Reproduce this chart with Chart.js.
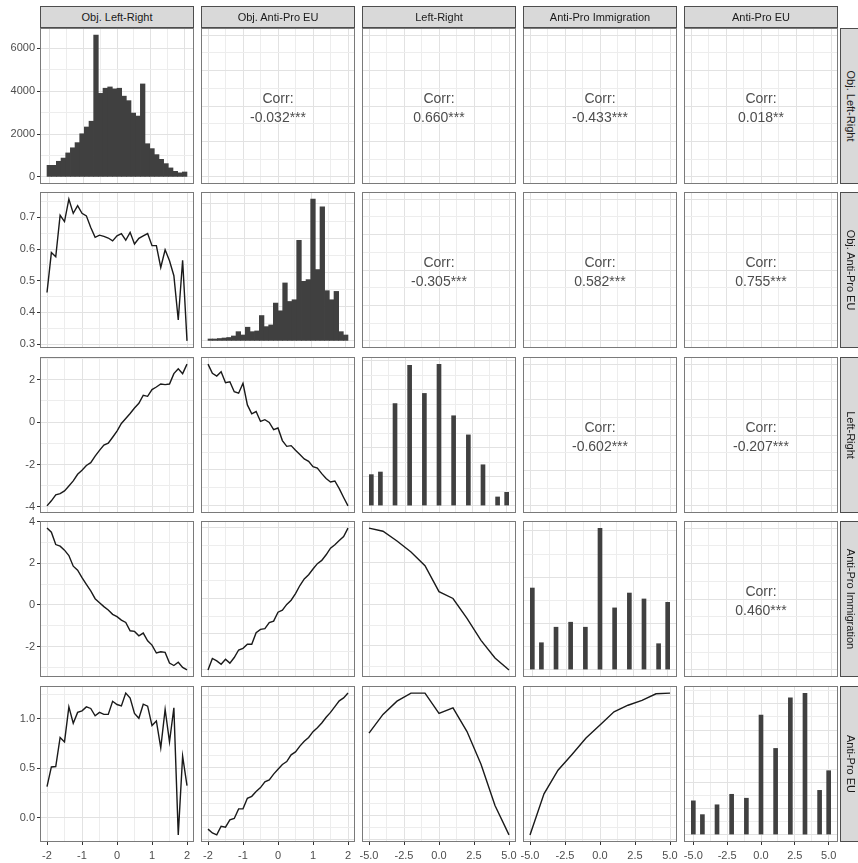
<!DOCTYPE html>
<html>
<head>
<meta charset="utf-8">
<script src="https://cdn.jsdelivr.net/npm/chart.js@4.4.1/dist/chart.umd.min.js"></script>
<style>
  body { margin: 0; background: #ffffff; }
  #fig { position: relative; width: 858px; height: 863px; overflow: hidden; background: #ffffff;
         font-family: "Liberation Sans", Arial, Helvetica, sans-serif; }
  #fig canvas { position: absolute; }
  .strip { position: absolute; background: #d9d9d9; border: 1px solid #4d4d4d; box-sizing: border-box;
           color: #1a1a1a; font-size: 11px; display: flex; align-items: center; justify-content: center;
           white-space: nowrap; overflow: hidden; }
  .strip.side span { display: inline-block; transform: rotate(90deg); }
  .corr { position: absolute; text-align: center; color: #4d4d4d; font-size: 14px; line-height: 19px; }
</style>
</head>
<body>
<div id="fig"></div>
<script>
// ---------------- data ----------------
const variables = ['Obj. Left-Right', 'Obj. Anti-Pro EU', 'Left-Right', 'Anti-Pro Immigration', 'Anti-Pro EU'];
const variableRanges = [[-2, 2], [-2, 2], [-5, 5], [-5, 5], [-5, 5]];

// positions of the objective scales and of the survey scales
const objPoints = [-2, -1.875, -1.75, -1.625, -1.5, -1.375, -1.25, -1.125, -1, -0.875, -0.75, -0.625, -0.5,
  -0.375, -0.25, -0.125, 0, 0.125, 0.25, 0.375, 0.5, 0.625, 0.75, 0.875, 1, 1.125, 1.25, 1.375, 1.5,
  1.625, 1.75, 1.875, 2];
const scalePoints = [-5, -4, -3, -2, -1, 0, 1, 2, 3, 4, 5];

// conditional means (lower triangle)
const objEU_by_objLR = [0.463, 0.589, 0.576, 0.707, 0.687, 0.758, 0.713, 0.737, 0.713, 0.705, 0.668, 0.637,
  0.644, 0.640, 0.635, 0.626, 0.642, 0.649, 0.628, 0.653, 0.616, 0.634, 0.642, 0.649, 0.611, 0.611, 0.542,
  0.598, 0.563, 0.516, 0.376, 0.565, 0.310];
const leftRight_by_objLR = [-3.95, -3.71, -3.43, -3.37, -3.24, -3.01, -2.77, -2.46, -2.27, -2.04, -1.91, -1.60,
  -1.33, -1.08, -0.99, -0.71, -0.42, -0.06, 0.17, 0.41, 0.67, 0.89, 1.27, 1.22, 1.54, 1.66, 1.80, 1.77, 1.80,
  2.29, 2.52, 2.29, 2.74];
const immigration_by_objLR = [3.69, 3.49, 2.90, 2.82, 2.63, 2.37, 1.86, 1.67, 1.31, 0.99, 0.67, 0.30, 0.11,
  -0.08, -0.24, -0.45, -0.56, -0.73, -0.84, -1.24, -1.27, -1.48, -1.35, -1.72, -1.93, -2.31, -2.25, -2.28,
  -2.79, -2.91, -2.75, -3.00, -3.12];
const antiEU_by_objLR = [0.313, 0.513, 0.517, 0.813, 0.767, 1.123, 0.957, 1.067, 1.083, 1.123, 1.107, 1.033,
  1.067, 1.047, 1.047, 1.180, 1.147, 1.133, 1.263, 1.213, 1.057, 1.007, 1.150, 1.130, 0.933, 0.980, 0.707,
  1.097, 0.767, 1.113, -0.177, 0.623, 0.323];
const leftRight_by_objEU = [5.01, 4.35, 4.16, 4.46, 3.69, 3.76, 3.05, 2.94, 3.65, 2.11, 1.48, 1.64, 0.94, 1.06,
  0.87, 0.35, 0.47, -0.42, -0.83, -0.78, -1.11, -1.41, -1.72, -1.89, -2.28, -2.38, -2.77, -3.12, -3.36,
  -3.29, -3.83, -4.46, -5.06];
const immigration_by_objEU = [-5.06, -4.25, -4.42, -4.66, -4.30, -4.58, -4.18, -3.65, -3.53, -3.24, -3.24,
  -2.42, -2.19, -2.14, -1.71, -1.60, -0.97, -0.83, -0.42, -0.12, 0.35, 0.92, 1.39, 1.69, 2.09, 2.47, 2.70,
  3.10, 3.57, 3.81, 4.11, 4.39, 4.99];
const antiEU_by_objEU = [-0.14, -0.18, -0.20, -0.11, -0.12, -0.045, -0.03, 0.07, 0.07, 0.18, 0.20, 0.25, 0.29,
  0.35, 0.37, 0.43, 0.48, 0.53, 0.56, 0.63, 0.66, 0.72, 0.77, 0.81, 0.87, 0.91, 0.96, 1.02, 1.07, 1.13, 1.19,
  1.22, 1.27];
const immigration_by_leftRight = [3.66, 3.51, 3.04, 2.51, 1.85, 0.61, 0.28, -0.68, -1.73, -2.58, -3.15];
const antiEU_by_leftRight = [0.859, 1.053, 1.190, 1.274, 1.274, 1.063, 1.120, 0.875, 0.535, 0.108, -0.198];
const antiEU_by_immigration = [-0.198, 0.228, 0.473, 0.637, 0.807, 0.944, 1.080, 1.148, 1.199, 1.267, 1.274];

// histograms (diagonal)
const objBins = [-2.000, -1.862, -1.724, -1.586, -1.448, -1.310, -1.172, -1.034, -0.897, -0.759, -0.621,
  -0.483, -0.345, -0.207, -0.069, 0.069, 0.207, 0.345, 0.483, 0.621, 0.759, 0.897, 1.034, 1.172, 1.310,
  1.448, 1.586, 1.724, 1.862, 2.000];
const objBinWidth = 0.1379;
const objLRCounts = [540, 540, 730, 880, 1120, 1360, 1600, 2015, 2330, 2600, 6620, 3900, 4140, 4200, 4110,
  4140, 3770, 3560, 2980, 2840, 4340, 1550, 1320, 1040, 820, 620, 420, 260, 190, 230];
const objEUCounts = [56, 56, 70, 85, 100, 144, 270, 173, 400, 270, 291, 741, 417, 467, 1105, 879, 1693, 1152,
  1202, 2937, 1740, 1790, 4142, 2084, 3916, 1467, 1202, 1446, 270, 173];
const scaleBins = [-5, -4.33, -3.25, -2.17, -1.08, 0, 1.08, 2.17, 3.25, 4.33, 5];
const scaleBinWidth = 0.345;
const leftRightCounts = [1090, 1180, 3540, 4860, 3890, 4890, 3120, 2460, 1430, 320, 480];
const immigrationCounts = [1775, 594, 929, 1037, 929, 3062, 1346, 1667, 1539, 573, 1466];
const antiEUCounts = [656, 393, 581, 781, 706, 2292, 1656, 2622, 2705, 856, 1231];

// correlations (upper triangle)
const corrRows = [
  ['', '-0.032***', '0.660***', '-0.433***', '0.018**'],
  ['', '', '-0.305***', '0.582***', '0.755***'],
  ['', '', '', '-0.602***', '-0.207***'],
  ['', '', '', '', '0.460***']
];

// break spacing fixed by hand for the Anti-Pro EU row axis
const yStepOverride = { '4-0': 0.5 };

// ---------------- layout & style ----------------
const FONT = '"Liberation Sans", Arial, Helvetica, sans-serif';
const panelLeft = [40, 201, 362, 523, 684];
const panelTop = [28, 192, 357, 521, 686];
const PW = 154, PH = 156;
const GRID_MAJOR = '#e2e2e2', GRID_MINOR = '#ededed';
const LINE = '#1a1a1a', BAR = '#404040', FRAME = '#7a7a7a', TEXT = '#4d4d4d';

Chart.defaults.font.family = FONT;
const fig = document.getElementById('fig');

// Talbot et al. "extended" tick search (the labeling package used by ggplot2)
function extendedBreaks(dmin, dmax, m = 5) {
  const Q = [1, 5, 2, 2.5, 4, 3], w = [0.25, 0.2, 0.5, 0.05], n = Q.length;
  const range = dmax - dmin;
  const fmod = (a, b) => a - b * Math.floor(a / b);
  const simplicity = (i, j, lmin, lmax, lstep) => {
    const r = fmod(lmin, lstep), eps = 1e-9 * lstep;
    const v = ((r < eps || lstep - r < eps) && lmin <= 0 && lmax >= 0) ? 1 : 0;
    return 1 - i / (n - 1) - j + v;
  };
  const simplicityMax = (i, j) => 2 - i / (n - 1) - j;
  const coverage = (lmin, lmax) => 1 - 0.5 * ((dmax - lmax) ** 2 + (dmin - lmin) ** 2) / ((0.1 * range) ** 2);
  const coverageMax = span => {
    if (span > range) { const h = (span - range) / 2; return 1 - h * h / ((0.1 * range) ** 2); }
    return 1;
  };
  const density = (k, lmin, lmax) => {
    const r = (k - 1) / (lmax - lmin);
    const rt = (m - 1) / (Math.max(lmax, dmax) - Math.min(dmin, lmin));
    return 2 - Math.max(r / rt, rt / r);
  };
  const densityMax = k => (k >= m ? 2 - (k - 1) / (m - 1) : 1);
  let best = { score: -2 };
  outer:
  for (let j = 1; j < 25; j++) {
    for (let qi = 0; qi < n; qi++) {
      const q = Q[qi], sm = simplicityMax(qi, j);
      if (w[0] * sm + w[1] + w[2] + w[3] < best.score) break outer;
      for (let k = 2; k < 60; k++) {
        const dm = densityMax(k);
        if (w[0] * sm + w[1] + w[2] * dm + w[3] < best.score) break;
        const delta = range / (k + 1) / j / q;
        for (let z = Math.ceil(Math.log10(delta)); z < 30; z++) {
          const step = j * q * Math.pow(10, z);
          const cm = coverageMax(step * (k - 1));
          if (w[0] * sm + w[1] * cm + w[2] * dm + w[3] < best.score) break;
          const minStart = Math.floor(dmax / step) * j - (k - 1) * j;
          const maxStart = Math.ceil(dmin / step) * j;
          for (let start = minStart; start <= maxStart; start++) {
            const lmin = start * (step / j), lmax = lmin + step * (k - 1);
            const score = w[0] * simplicity(qi, j, lmin, lmax, step) + w[1] * coverage(lmin, lmax) +
                          w[2] * density(k, lmin, lmax) + w[3];
            if (score > best.score) best = { score, lmin, lmax, step };
          }
        }
      }
    }
  }
  return best;
}

// breaks from the data limits; major lines plus midway minor lines inside the expanded range
function gridFor(lim, range, step) {
  const b = step
    ? { step, lmin: Math.floor(lim[0] / step) * step, lmax: Math.ceil(lim[1] / step) * step }
    : extendedBreaks(lim[0], lim[1]);
  const half = b.step / 2, out = [];
  const i0 = Math.ceil((range[0] - b.lmin) / half - 1e-9);
  const i1 = Math.floor((range[1] - b.lmin) / half + 1e-9);
  for (let i = i0; i <= i1; i++) {
    let v = b.lmin + i * half;
    if (Math.abs(v) < 1e-12) v = 0;
    const major = (i % 2 === 0) && v >= b.lmin - 1e-9 && v <= b.lmax + 1e-9;
    out.push({ value: v, major });
  }
  const majors = out.filter(t => t.major).map(t => t.value);
  let d = 0;
  while (d < 6 && majors.some(v => Math.abs(Math.round(v * 10 ** d) - v * 10 ** d) > 1e-6)) d++;
  out.forEach(t => { t.label = t.major ? t.value.toFixed(d) : ''; });
  return out;
}

function expand(lim) { const d = (lim[1] - lim[0]) * 0.05; return [lim[0] - d, lim[1] + d]; }
function extent(a) { return [Math.min(...a), Math.max(...a)]; }

function axis(lim, isX, showLabels, size, step) {
  const range = expand(lim);
  const breaks = gridFor(lim, range, step);
  return {
    type: 'linear', min: range[0], max: range[1], offset: false,
    afterBuildTicks: s => { s.ticks = breaks.map(b => ({ value: b.value, isMajor: b.major, txt: b.label })); },
    afterFit: s => {
      if (isX) s.height = size; else s.width = size;
      s.paddingLeft = 0; s.paddingRight = 0; s.paddingTop = 0; s.paddingBottom = 0;
    },
    grid: {
      offset: false, drawTicks: showLabels, tickLength: 3, lineWidth: 1, tickWidth: 1,
      color: c => (c.tick && c.tick.isMajor ? GRID_MAJOR : GRID_MINOR),
      tickColor: c => (c.tick && c.tick.isMajor ? '#333333' : 'rgba(0,0,0,0)')
    },
    border: { display: false },
    ticks: {
      display: showLabels, autoSkip: false, maxRotation: 0, minRotation: 0, padding: isX ? 4 : 2,
      color: TEXT, font: { family: FONT, size: 11 },
      callback: (v, i, ticks) => (ticks[i] && ticks[i].txt) || ''
    }
  };
}

const framePlugin = {
  id: 'panelFrame',
  afterDraw(chart) {
    const a = chart.chartArea, ctx = chart.ctx;
    ctx.save();
    ctx.strokeStyle = FRAME; ctx.lineWidth = 1;
    ctx.strokeRect(Math.round(a.left) + 0.5, Math.round(a.top) + 0.5,
                   Math.round(a.right - a.left) - 1, Math.round(a.bottom - a.top) - 1);
    ctx.restore();
  }
};

function addPanel(r, c, type, datasets, xLim, yLim) {
  const mL = c === 0 ? 40 : 2, mT = 8, mR = 8, mB = r === 4 ? 22 : 2;
  const cv = document.createElement('canvas');
  cv.width = PW + mL + mR; cv.height = PH + mT + mB;
  cv.style.left = (panelLeft[c] - mL) + 'px';
  cv.style.top = (panelTop[r] - mT) + 'px';
  cv.style.width = cv.width + 'px'; cv.style.height = cv.height + 'px';
  fig.appendChild(cv);
  new Chart(cv, {
    type,
    data: { datasets },
    options: {
      responsive: false, animation: false, devicePixelRatio: 1,
      layout: { padding: { left: c === 0 ? 0 : mL, top: mT, right: mR, bottom: r === 4 ? 0 : mB } },
      plugins: { legend: { display: false }, tooltip: { enabled: false } },
      events: [],
      scales: {
        x: axis(xLim, true, r === 4, r === 4 ? 22 : 0),
        y: axis(yLim, false, c === 0, c === 0 ? 40 : 0, yStepOverride[r + '-' + c])
      }
    },
    plugins: [framePlugin]
  });
}

// ---------------- panels ----------------
const lowerSeries = {
  '1-0': [objPoints, objEU_by_objLR],
  '2-0': [objPoints, leftRight_by_objLR],
  '3-0': [objPoints, immigration_by_objLR],
  '4-0': [objPoints, antiEU_by_objLR],
  '2-1': [objPoints, leftRight_by_objEU],
  '3-1': [objPoints, immigration_by_objEU],
  '4-1': [objPoints, antiEU_by_objEU],
  '3-2': [scalePoints, immigration_by_leftRight],
  '4-2': [scalePoints, antiEU_by_leftRight],
  '4-3': [scalePoints, antiEU_by_immigration]
};
const diagSeries = [
  [objBins, objLRCounts, objBinWidth],
  [objBins, objEUCounts, objBinWidth],
  [scaleBins, leftRightCounts, scaleBinWidth],
  [scaleBins, immigrationCounts, scaleBinWidth],
  [scaleBins, antiEUCounts, scaleBinWidth]
];

for (let r = 0; r < 5; r++) {
  for (let c = 0; c < 5; c++) {
    if (r === c) {
      const [bins, counts, bw] = diagSeries[r];
      let gap = Infinity;
      for (let i = 1; i < bins.length; i++) gap = Math.min(gap, bins[i] - bins[i - 1]);
      addPanel(r, c, 'bar', [{
        data: bins.map((x, i) => ({ x, y: counts[i] })),
        backgroundColor: BAR, borderWidth: 0,
        barPercentage: Math.min(1, bw / gap), categoryPercentage: 1, grouped: false
      }], [bins[0] - bw / 2, bins[bins.length - 1] + bw / 2], [0, Math.max(...counts)]);
    } else if (r > c) {
      const [xs, ys] = lowerSeries[r + '-' + c];
      addPanel(r, c, 'line', [{
        data: xs.map((x, i) => ({ x, y: ys[i] })),
        borderColor: LINE, borderWidth: 1.4, pointRadius: 0, tension: 0, fill: false
      }], extent(xs), extent(ys));
    } else {
      addPanel(r, c, 'scatter', [{ data: [] }], variableRanges[c], variableRanges[r]);
      const t = document.createElement('div');
      t.className = 'corr';
      t.style.left = panelLeft[c] + 'px'; t.style.width = PW + 'px';
      t.style.top = (panelTop[r] + PH / 2 - 17) + 'px';
      t.innerHTML = 'Corr:<br>' + corrRows[r][c];
      fig.appendChild(t);
    }
  }
}

// strip labels
variables.forEach((name, i) => {
  const top = document.createElement('div');
  top.className = 'strip';
  top.style.left = panelLeft[i] + 'px'; top.style.width = PW + 'px';
  top.style.top = '6px'; top.style.height = '22px';
  top.textContent = name;
  fig.appendChild(top);

  const side = document.createElement('div');
  side.className = 'strip side';
  side.style.left = '840px'; side.style.width = '22px';
  side.style.top = panelTop[i] + 'px'; side.style.height = PH + 'px';
  const s = document.createElement('span');
  s.textContent = name;
  side.appendChild(s);
  fig.appendChild(side);
});
</script>
</body>
</html>
